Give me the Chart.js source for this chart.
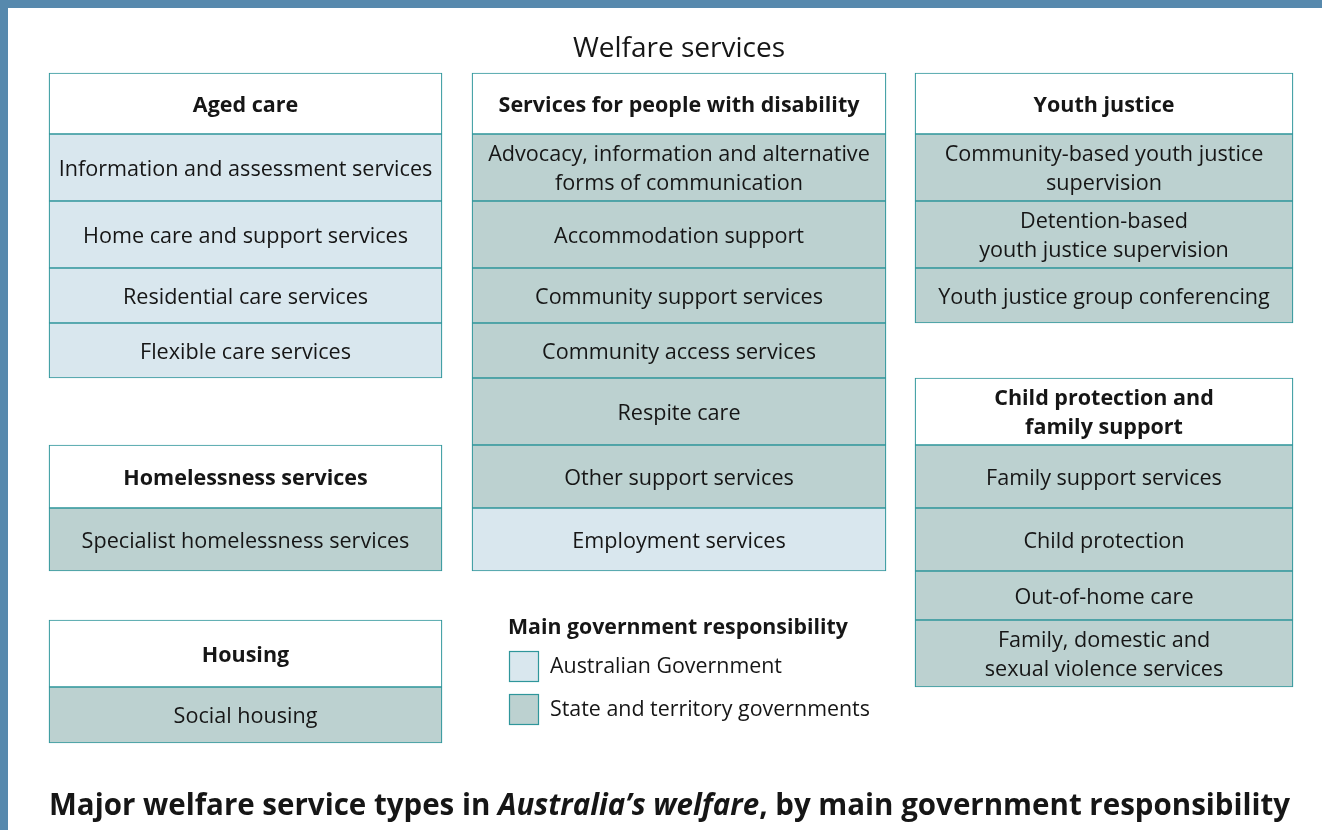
<!DOCTYPE html>
<html>
<head>
<meta charset="utf-8">
<title>Welfare services</title>
<script src="https://cdn.jsdelivr.net/npm/chart.js@4.4.1/dist/chart.umd.min.js"></script>
<style>
  html, body { margin: 0; padding: 0; background: #fff; }
  #chart { display: block; }
</style>
</head>
<body>
<canvas id="chart" width="1322" height="830"></canvas>
<script>
// --- content ---
const groupNames = [
  "Aged care",
  "Services for people with disability",
  "Youth justice",
  "Homelessness services",
  "Child protection and\nfamily support",
  "Housing"
];

const agedCare = [
  "Information and assessment services",
  "Home care and support services",
  "Residential care services",
  "Flexible care services"
];
const disability = [
  "Advocacy, information and alternative\nforms of communication",
  "Accommodation support",
  "Community support services",
  "Community access services",
  "Respite care",
  "Other support services",
  "Employment services"
];
const youthJustice = [
  "Community-based youth justice\nsupervision",
  "Detention-based\nyouth justice supervision",
  "Youth justice group conferencing"
];
const homelessness = ["Specialist homelessness services"];
const childProtection = [
  "Family support services",
  "Child protection",
  "Out-of-home care",
  "Family, domestic and\nsexual violence services"
];
const housing = ["Social housing"];

// main government responsibility: A = Australian Government, S = State and territory
const agedCareGov = ["A", "A", "A", "A"];
const disabilityGov = ["S", "S", "S", "S", "S", "S", "A"];
const youthJusticeGov = ["S", "S", "S"];
const homelessnessGov = ["S"];
const childProtectionGov = ["S", "S", "S", "S"];
const housingGov = ["S"];

const services = [agedCare, disability, youthJustice, homelessness, childProtection, housing];
const responsibility = [agedCareGov, disabilityGov, youthJusticeGov, homelessnessGov, childProtectionGov, housingGov];

const legendTitle = "Main government responsibility";
const legendKeys = ["A", "S"];
const legendLabels = ["Australian Government", "State and territory governments"];

const topTitle = "Welfare services";
const caption = [
  ["Major welfare service types in ", "bold"],
  ["Australia\u2019s welfare", "italic bold"],
  [", by main government responsibility", "bold"]
];

// --- layout ---
const colLeft = [49, 472, 915];
const colRight = [442, 886, 1293];
const gridTop = 73;
const rowHeights = [61, 67, 67, 55, 55, 67, 63, 63, 49, 67, 56];
const groupColumn = [0, 1, 2, 0, 2, 0];
const groupFirstRow = [0, 0, 0, 6, 5, 9];

const fills = { head: "#ffffff", A: "#d9e7ee", S: "#bcd1d0" };
const lineColour = "#2f969b";
const frameColour = "#5789ad";
const textColour = "#161616";
const FONT = "'Open Sans', 'Noto Sans', sans-serif";

function rowTop(r) {
  let y = gridTop;
  for (let i = 0; i < r; i++) y += rowHeights[i];
  return y;
}

const datasets = [0, 1, 2].map(col => {
  const data = [];
  const cx = (colLeft[col] + colRight[col]) / 2;
  groupNames.forEach((name, g) => {
    if (groupColumn[g] !== col) return;
    let r = groupFirstRow[g];
    data.push({ x: cx, y: [rowTop(r), rowTop(r + 1)], text: name, kind: "head" });
    services[g].forEach((s, i) => {
      r++;
      data.push({ x: cx, y: [rowTop(r), rowTop(r + 1)], text: s, kind: responsibility[g][i] });
    });
  });
  return {
    data,
    grouped: false,
    barThickness: colRight[col] - colLeft[col],
    backgroundColor: c => fills[c.raw.kind],
    borderColor: lineColour,
    borderWidth: 1.2,
    borderSkipped: false
  };
});

function drawLines(ctx, text, x, cy, lh) {
  const lines = text.split("\n");
  const y0 = cy - (lines.length - 1) * lh / 2;
  lines.forEach((l, i) => ctx.fillText(l, x, y0 + i * lh));
}

const diagramText = {
  id: "diagramText",
  beforeDraw(chart) {
    const ctx = chart.ctx;
    ctx.save();
    ctx.fillStyle = frameColour;
    ctx.fillRect(0, 0, chart.width, 8);
    ctx.fillRect(0, 0, 8, chart.height);
    ctx.restore();
  },
  afterDatasetsDraw(chart) {
    const ctx = chart.ctx;
    ctx.save();
    ctx.fillStyle = textColour;
    ctx.textAlign = "center";
    ctx.textBaseline = "middle";

    chart.data.datasets.forEach((ds, di) => {
      chart.getDatasetMeta(di).data.forEach((bar, i) => {
        const raw = ds.data[i];
        ctx.font = raw.kind === "head" ? "bold 21.5px " + FONT : "21.6px " + FONT;
        drawLines(ctx, raw.text, bar.x, (bar.y + bar.base) / 2 + 2, 29.5);
      });
    });

    // heading
    ctx.font = "28px " + FONT;
    ctx.textBaseline = "alphabetic";
    ctx.fillText(topTitle, 679, 57);

    // legend
    ctx.textAlign = "left";
    ctx.font = "bold 21.3px " + FONT;
    ctx.fillText(legendTitle, 508, 634);
    ctx.font = "21.4px " + FONT;
    legendKeys.forEach((k, i) => {
      const y = 651 + i * 43;
      ctx.fillStyle = fills[k];
      ctx.fillRect(509, y, 30, 31);
      ctx.strokeStyle = lineColour;
      ctx.lineWidth = 1.2;
      ctx.strokeRect(509.5, y + 0.5, 29, 30);
      ctx.fillStyle = textColour;
      ctx.textBaseline = "middle";
      ctx.fillText(legendLabels[i], 550, y + 16);
    });

    // caption
    ctx.textBaseline = "alphabetic";
    let x = 49;
    caption.forEach(([t, w]) => {
      ctx.font = w + " 29.5px " + FONT;
      ctx.fillText(t, x, 815);
      x += ctx.measureText(t).width;
    });
    ctx.restore();
  }
};

new Chart(document.getElementById("chart"), {
  type: "bar",
  data: { datasets },
  options: {
    responsive: false,
    animation: false,
    layout: { padding: 0 },
    plugins: { legend: { display: false }, tooltip: { enabled: false } },
    scales: {
      x: { type: "linear", min: 0, max: 1322, display: false, offset: false },
      y: { type: "linear", min: 0, max: 830, reverse: true, display: false }
    }
  },
  plugins: [diagramText]
});
</script>
</body>
</html>
